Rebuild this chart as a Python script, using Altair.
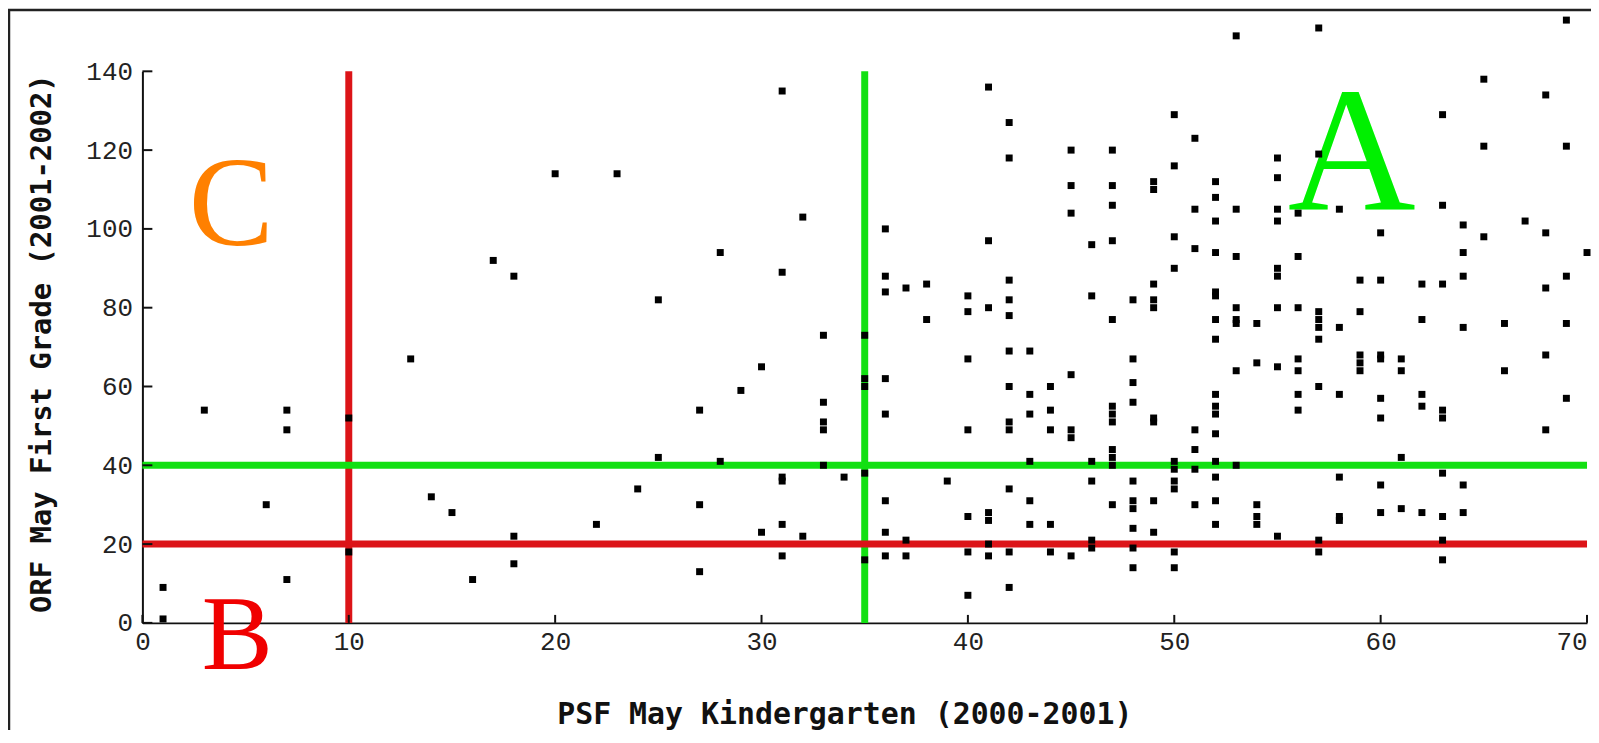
import altair as alt
import pandas as pd

# ---- data ----
psf_k = [1, 1, 3, 6, 7, 7, 7, 10, 10, 13, 14, 15, 16, 17, 18, 18, 18, 20, 22, 23, 24, 25, 25,
         27, 27, 27, 28, 28, 29, 30, 30, 31, 31, 31, 31, 31, 31, 32, 32, 33, 33, 33, 33, 33, 34,
         35, 35, 35, 35, 35,
         36, 36, 36, 36, 36, 36, 36, 36, 37, 37, 37, 38, 38, 39,
         40, 40, 40, 40, 40, 40, 40,
         41, 41, 41, 41, 41, 41, 41,
         42, 42, 42, 42, 42, 42, 42, 42, 42, 42, 42, 42,
         43, 43, 43, 43, 43, 43,
         44, 44, 44, 44, 44,
         45, 45, 45, 45, 45, 45, 45,
         46, 46, 46, 46, 46, 46,
         47, 47, 47, 47, 47, 47, 47, 47, 47, 47, 47, 47,
         48, 48, 48, 48, 48, 48, 48, 48, 48, 48,
         49, 49, 49, 49, 49, 49, 49, 49, 49,
         50, 50, 50, 50, 50, 50, 50, 50, 50, 50,
         51, 51, 51, 51, 51, 51, 51,
         52, 52, 52, 52, 52, 52, 52, 52, 52, 52, 52, 52, 52, 52, 52, 52,
         53, 53, 53, 53, 53, 53, 53, 53,
         54, 54, 54, 54, 54,
         55, 55, 55, 55, 55, 55, 55, 55, 55,
         56, 56, 56, 56, 56, 56, 56,
         57, 57, 57, 57, 57, 57, 57, 57, 57,
         58, 58, 58, 58, 58, 58,
         59, 59, 59, 59, 59,
         60, 60, 60, 60, 60, 60, 60, 60,
         61, 61, 61, 61,
         62, 62, 62, 62, 62,
         63, 63, 63, 63, 63, 63, 63, 63, 63,
         64, 64, 64, 64, 64, 64,
         65, 65, 65,
         66, 66,
         67,
         68, 68, 68, 68, 68,
         69, 69, 69, 69, 69,
         70]
orf_1 = [9, 1, 54, 30, 54, 49, 11, 52, 18, 67, 32, 28, 11, 92, 88, 22, 15, 114, 25, 114, 34, 82, 42,
         54, 30, 13, 94, 41, 59, 65, 23, 135, 89, 37, 36, 25, 17, 103, 22, 73, 56, 51, 49, 40, 37,
         73, 62, 60, 38, 16,
         100, 88, 84, 62, 53, 31, 23, 17, 85, 21, 17, 86, 77, 36,
         83, 79, 67, 49, 27, 18, 7,
         136, 97, 80, 28, 26, 20, 17,
         127, 118, 87, 82, 78, 69, 60, 51, 49, 34, 18, 9,
         69, 58, 53, 41, 31, 25,
         60, 54, 49, 25, 18,
         120, 111, 104, 63, 49, 47, 17,
         96, 83, 41, 36, 21, 19,
         120, 111, 106, 97, 77, 55, 53, 51, 44, 42, 40, 30,
         82, 67, 61, 56, 36, 31, 29, 24, 19, 14,
         112, 110, 86, 82, 80, 52, 51, 31, 23,
         129, 116, 98, 90, 41, 39, 36, 34, 18, 14,
         123, 105, 95, 49, 44, 39, 30,
         112, 108, 102, 94, 84, 83, 77, 72, 58, 55, 53, 48, 41, 37, 31, 25,
         149, 105, 93, 80, 77, 76, 64, 40,
         76, 66, 30, 27, 25,
         118, 113, 105, 102, 90, 88, 80, 65, 22,
         104, 93, 80, 67, 64, 58, 54,
         151, 119, 79, 77, 75, 72, 60, 21, 18,
         105, 75, 58, 37, 27, 26,
         87, 79, 68, 66, 64,
         99, 87, 68, 67, 57, 52, 35, 28,
         67, 64, 42, 29,
         86, 77, 58, 55, 28,
         129, 106, 86, 54, 52, 38, 27, 21, 16,
         101, 94, 88, 75, 35, 28,
         138, 121, 98,
         76, 64,
         102,
         134, 99, 85, 68, 49,
         153, 121, 88, 76, 57,
         94]

x_ticks = [0, 10, 20, 30, 40, 50, 60, 70]
y_ticks = [0, 20, 40, 60, 80, 100, 120, 140]

cut_x = [10, 35]
cut_x_color = ["#dc1418", "#12e012"]
cut_y = [20, 40]
cut_y_color = ["#dc1418", "#12e012"]

zone_label = ["A", "B", "C"]
zone_x = [58.6, 4.6, 4.3]
zone_y = [104.8, -11.6, 96.0]
zone_color = ["#00f000", "#f00000", "#ff8000"]
zone_size = [178, 107, 128]

X_MAX = 70
Y_MAX = 140
W, H = 1451, 554

pts = pd.DataFrame({"psf": psf_k, "orf": orf_1})
vlines = pd.DataFrame({"x": cut_x, "y0": [0] * len(cut_x), "y1": [Y_MAX] * len(cut_x), "c": cut_x_color})
hlines = pd.DataFrame({"y": cut_y, "x0": [0] * len(cut_y), "x1": [X_MAX] * len(cut_y), "c": cut_y_color})
letters = pd.DataFrame({"t": zone_label, "x": zone_x, "y": zone_y, "c": zone_color, "fs": zone_size})
xt = pd.DataFrame({"v": x_ticks})
yt = pd.DataFrame({"v": y_ticks})

xscale = alt.Scale(domain=[0, X_MAX], nice=False, zero=False)
yscale = alt.Scale(domain=[0, Y_MAX], nice=False, zero=False)

x_axis = alt.Axis(
    values=x_ticks, format="d", ticks=False, grid=False,
    labelFont="Liberation Mono", labelFontSize=26, labelColor="#222",
    labelBaseline="alphabetic", labelPadding=27,
    labelAlign=alt.condition("datum.value == 70", alt.value("right"), alt.value("center")),
    domainColor="#111", domainWidth=2,
    title="PSF May Kindergarten (2000-2001)",
    titleFont="DejaVu Sans Mono", titleFontWeight="bold", titleFontSize=30, titleColor="#111",
    titleX=705, titleY=101, titleBaseline="alphabetic", titleAlign="center",
)
y_axis = alt.Axis(
    values=y_ticks, format="d", ticks=False, grid=False,
    labelFont="Liberation Mono", labelFontSize=26, labelColor="#222",
    labelPadding=10, labelBaseline="middle",
    domainColor="#111", domainWidth=2,
    title="ORF May First Grade (2001-2002)",
    titleFont="DejaVu Sans Mono", titleFontWeight="bold", titleFontSize=29, titleColor="#111",
    titleAngle=270, titleX=-92, titleY=273, titleBaseline="alphabetic", titleAlign="center",
)

frame = alt.Chart(alt.Data(values=[{"k": 1}])).mark_rect(
    filled=False, stroke="#222", strokeWidth=2.5
).encode(x=alt.value(-134), x2=alt.value(W + 40), y=alt.value(-61.5), y2=alt.value(H + 200))

v = alt.Chart(vlines).mark_rule(strokeWidth=7, strokeCap="butt").encode(
    x=alt.X("x:Q", scale=xscale, axis=x_axis),
    y=alt.Y("y0:Q", scale=yscale, axis=y_axis),
    y2="y1:Q",
    color=alt.Color("c:N", scale=None),
)
h = alt.Chart(hlines).mark_rule(strokeWidth=7, strokeCap="butt").encode(
    y=alt.Y("y:Q", scale=yscale),
    x=alt.X("x0:Q", scale=xscale),
    x2="x1:Q",
    color=alt.Color("c:N", scale=None),
)
txt = alt.Chart(letters).mark_text(font="Liberation Serif", align="center", baseline="alphabetic").encode(
    x=alt.X("x:Q", scale=xscale),
    y=alt.Y("y:Q", scale=yscale),
    text="t:N",
    color=alt.Color("c:N", scale=None),
    size=alt.Size("fs:Q", scale=None, legend=None),
)
dots = alt.Chart(pts).mark_square(size=49, color="black", opacity=1, filled=True).encode(
    x=alt.X("psf:Q", scale=xscale),
    y=alt.Y("orf:Q", scale=yscale),
)
xtick = alt.Chart(xt).mark_rule(color="#111", strokeWidth=2).encode(
    x=alt.X("v:Q", scale=xscale), y=alt.value(H), y2=alt.value(H - 8)
)
ytick = alt.Chart(yt).mark_rule(color="#111", strokeWidth=2).encode(
    y=alt.Y("v:Q", scale=yscale), x=alt.value(0), x2=alt.value(10)
)

chart = alt.layer(frame, v, h, txt, dots, xtick, ytick).properties(
    width=W, height=H,
    autosize=alt.AutoSizeParams(type="none"),
    padding={"left": 135, "top": 62, "right": 4, "bottom": 106},
    background="white",
).configure_view(stroke=None)

chart.save("out.html", embed_options={"renderer": "svg", "actions": False})
